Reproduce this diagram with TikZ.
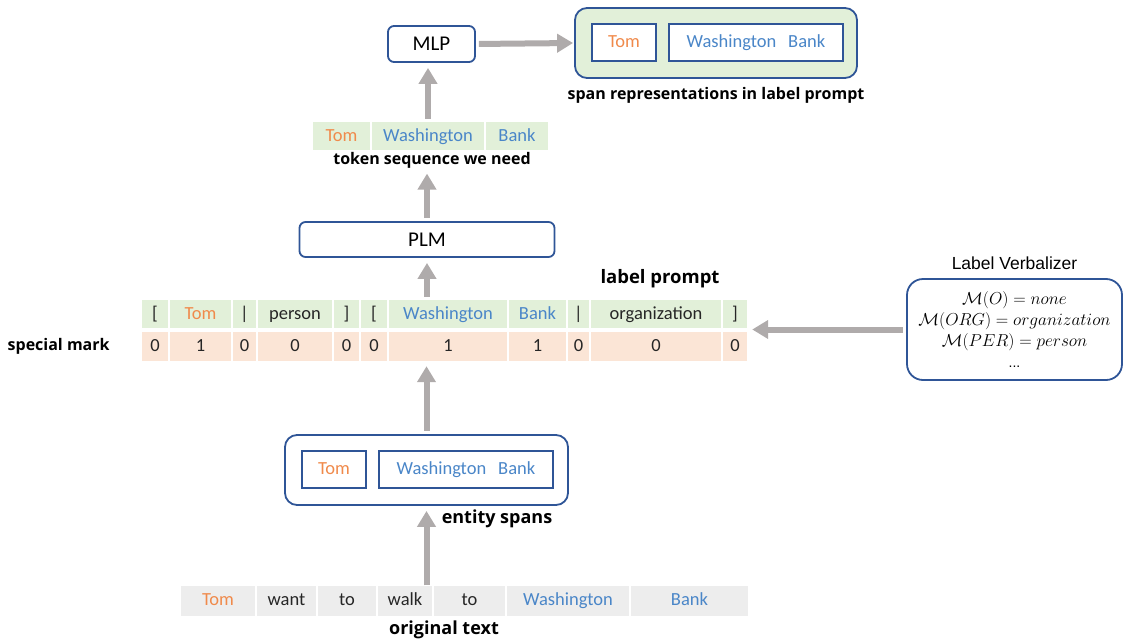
\documentclass[tikz,border=0pt]{standalone}
\usepackage{fontspec}
\setmainfont{Carlito}
\newfontfamily\capfont{Open Sans}
\newfontfamily\arialfont{Liberation Sans}
\usetikzlibrary{arrows.meta, positioning}

\definecolor{boxblue}{HTML}{2F5597}
\definecolor{cellgreen}{HTML}{E2F0D9}
\definecolor{cellorange}{HTML}{FBE5D6}
\definecolor{cellgrey}{HTML}{EDEDED}
\definecolor{arrowgrey}{HTML}{AFABAB}
\definecolor{tomc}{HTML}{F08A4B}
\definecolor{placec}{HTML}{4A86C8}
\definecolor{wordc}{HTML}{262626}

\tikzset{
  cell/.style={inner sep=0pt, text=wordc, text height=2.4ex, text depth=0.1ex,
    font=\fontsize{18.5}{21}\selectfont},
  block/.style={draw=boxblue, line width=1.8pt, fill=white, inner sep=0pt,
    font=\fontsize{21}{24}\selectfont},
  spanbox/.style={draw=boxblue, line width=1.4pt, fill=white, inner sep=0pt,
    text height=2.4ex, text depth=0.1ex, minimum height=37pt, font=\fontsize{18.5}{21}\selectfont},
  caption/.style={inner sep=0pt, font=\capfont\bfseries\fontsize{16}{19}\selectfont},
  arr/.style={->, draw=arrowgrey, line width=6pt, shorten <=3pt, shorten >=5pt}
}

\begin{document}
\begin{tikzpicture}[x=1pt, y=-1pt, >={Triangle[width=18pt, length=16pt]}]
    \useasboundingbox (0,0) rectangle (1124,642);

    % Top: MLP and span representations
    \node [block, rounded corners=6pt, minimum width=87pt, minimum height=36pt] (mlp) at (431.5,44) {MLP};
    \node [block, rounded corners=12pt, fill=cellgreen, minimum width=282pt, minimum height=70pt] (span) at (716,43) {};
    \node [spanbox, minimum width=64pt] (spantom) at (624,42.5) {\textcolor{tomc}{Tom}};
    \node [spanbox, minimum width=174pt] (spanwb) at (756,42.5) {\textcolor{placec}{Washington\hspace{12pt}Bank}};
    \node [caption, below=8pt of span] (spancap) {span representations in label prompt};

    % Token sequence
    \foreach \n/\a/\b/\t/\c in {1/313/370/Tom/tomc, 2/372/484/Washington/placec, 3/486/548/Bank/placec}
        \node [cell, fill=cellgreen, minimum width=\b-\a, minimum height=28pt] (tok\n) at ({(\a+\b)/2},136) {\textcolor{\c}{\t}};
    \node [caption, below=2pt of tok2, xshift=4pt] (tokcap) {token sequence we need};

    % PLM
    \node [block, rounded corners=6pt, minimum width=255pt, minimum height=35pt] (plm) at (427,239.5) {PLM};

    % Label prompt and special mark
    \foreach \n/\a/\b/\t/\c/\v in {1/142/168/{[}/wordc/0, 2/170/231/Tom/tomc/1, 3/233/256/{|}/wordc/0,
        4/258/332/person/wordc/0, 5/334/359/{]}/wordc/0, 6/361/387/{[}/wordc/0,
        7/389/507/Washington/placec/1, 8/509/566/Bank/placec/1, 9/568/589/{|}/wordc/0,
        10/591/721/organization/wordc/0, 11/723/747/{]}/wordc/0} {
        \node [cell, fill=cellgreen, minimum width=\b-\a, minimum height=28pt] (p\n) at ({(\a+\b)/2},314) {\textcolor{\c}{\t}};
        \node [cell, fill=cellorange, minimum width=\b-\a, minimum height=29pt] (m\n) at ({(\a+\b)/2},346.5) {\v};
    }
    \node [caption, font=\capfont\bfseries\fontsize{18.5}{22}\selectfont] (promptcap) at (660,279) {label prompt};
    \node [caption, left=32pt of m1] (markcap) {special mark};

    % Label verbalizer
    \node [draw=boxblue, line width=1.8pt, rounded corners=16pt, minimum width=215pt, minimum height=101pt,
        align=center, font=\fontsize{17}{21}\selectfont] (verb) at (1014.5,329.5)
        {$\mathcal{M}(O) = none$\\ $\mathcal{M}(ORG) = organization$\\ $\mathcal{M}(PER) = person$\\ \arialfont\fontsize{14}{17}\selectfont ...};
    \node [above=8pt of verb, inner sep=0pt, font=\arialfont\fontsize{17.5}{20}\selectfont] (verbcap) {Label Verbalizer};

    % Entity spans
    \node [block, rounded corners=12pt, minimum width=283pt, minimum height=70pt] (ent) at (426.5,470) {};
    \node [spanbox, minimum width=64pt] (enttom) at (334,469.5) {\textcolor{tomc}{Tom}};
    \node [spanbox, minimum width=174pt] (entwb) at (466,469.5) {\textcolor{placec}{Washington\hspace{12pt}Bank}};
    \node [caption, font=\capfont\bfseries\fontsize{18}{21}\selectfont] (entcap) at (497,519) {entity spans};

    % Original text
    \foreach \n/\a/\b/\t/\c in {1/181/255/Tom/tomc, 2/257/316/want/wordc, 3/318/376/to/wordc, 4/378/432/walk/wordc,
        5/434/505/to/wordc, 6/507/629/Washington/placec, 7/631/748/Bank/placec}
        \node [cell, fill=cellgrey, minimum width=\b-\a, minimum height=30pt] (o\n) at ({(\a+\b)/2},600.5) {\textcolor{\c}{\t}};
    \node [caption, font=\capfont\bfseries\fontsize{18}{21}\selectfont] (origcap) at (444,630) {original text};

    % Arrows
    \draw[arr] (tok2.north) -- (tok2.north |- mlp.south);
    \draw[arr, shorten >=1pt] (mlp.east) -- (span.west);
    \draw[arr] (plm.north) -- (plm.north |- tokcap.south);
    \draw[arr] (plm.south |- p7.north) -- (plm.south);
    \draw[arr] (ent.north) -- (ent.north |- m7.south);
    \draw[arr, shorten <=0pt] (ent.south |- o4.north) -- (ent.south);
    \draw[arr] (verb.west) -- (verb.west -| p11.east);

\end{tikzpicture}
\end{document}
